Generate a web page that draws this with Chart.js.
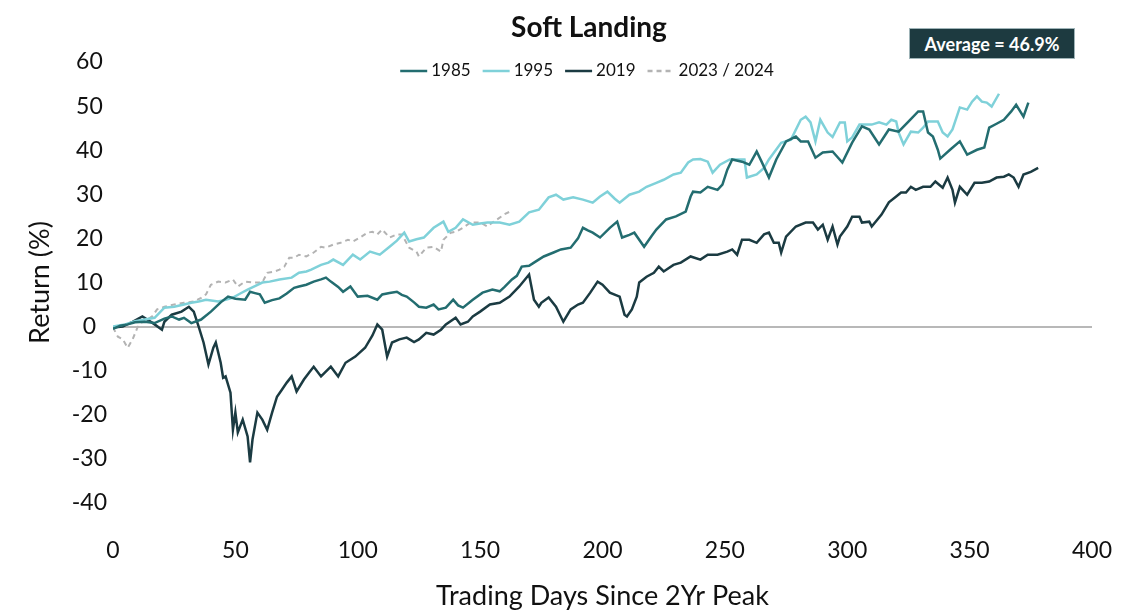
<!DOCTYPE html>
<html lang="en">
  <head>
    <meta charset="UTF-8" />
    <title>Soft Landing</title>
    <script src="https://cdn.jsdelivr.net/npm/chart.js"></script>
    <style>
      body {
        margin: 0;
        background: #fff;
      }
      .quadro {
        position: relative;
        width: 1128px;
        height: 612px;
      }
      .titulo {
        position: absolute;
        left: 489px;
        top: 9px;
        width: 200px;
        text-align: center;
        font: bold 28px Lato, sans-serif;
        color: #111;
      }
      .media {
        position: absolute;
        left: 909px;
        top: 28px;
        width: 164px;
        height: 29px;
        background: #1d3a40;
        border: 1px solid #9fb4b8;
        color: #fff;
        font: bold 18px Lato, sans-serif;
        display: flex;
        align-items: center;
        justify-content: center;
      }
    </style>
  </head>
  <body>
    <div class="quadro">
      <canvas id="grafico" width="1128" height="612"></canvas>
      <div class="titulo">Soft Landing</div>
      <div class="media">Average = 46.9%</div>
    </div>

    <script>
      // values (trading day -> return %)
      const dias1985 = [0, 3, 6, 9, 13, 17, 21, 24, 27, 29, 32, 36, 40, 44, 47, 50, 54, 56, 58, 60, 62, 65, 68, 71, 74, 76, 79, 82, 85, 87, 89, 92, 94, 97, 100, 104, 108, 110, 113, 116, 118, 120, 123, 125, 128, 131, 133, 136, 139, 141, 143, 147, 151, 155, 158, 160, 163, 165, 167, 170, 172, 176, 180, 183, 187, 190, 192, 194, 196, 199, 203, 206, 208, 211, 213, 217, 220, 222, 226, 230, 234, 236, 237, 240, 243, 247, 249, 251, 253, 257, 260, 263, 265, 268, 271, 275, 279, 281, 284, 287, 290, 294, 298, 302, 306, 309, 313, 317, 321, 325, 329, 331, 333, 335, 337, 338, 342, 346, 349, 353, 356, 358, 361, 364, 367, 369, 372, 374]
      const ret1985 = [-0.5, 0.2, 0.5, 1.0, 1.1, 0.8, 1.8, 2.3, 1.6, 2.0, 0.8, 1.6, 3.4, 5.5, 6.8, 6.3, 6.1, 7.9, 7.6, 7.3, 5.4, 6.0, 6.4, 7.5, 8.8, 9.1, 9.5, 10.2, 10.7, 11.1, 10.2, 9.0, 7.9, 9.1, 6.8, 7.0, 6.1, 7.3, 7.6, 7.9, 7.2, 6.8, 5.5, 4.5, 4.3, 5.0, 3.9, 4.3, 6.1, 4.8, 4.3, 6.1, 7.7, 8.4, 8.0, 9.0, 10.7, 11.5, 13.6, 13.8, 14.5, 15.9, 16.8, 17.5, 17.9, 20.0, 22.4, 21.8, 21.3, 20.2, 22.4, 23.8, 20.2, 20.8, 21.3, 18.1, 20.5, 22.0, 24.3, 25.0, 26.1, 29.5, 30.6, 30.4, 31.7, 31.0, 32.2, 35.6, 37.9, 37.4, 36.7, 39.7, 37.4, 33.8, 37.9, 42.0, 43.1, 42.0, 42.0, 38.3, 39.5, 39.7, 37.2, 41.7, 45.4, 44.7, 41.3, 44.7, 44.2, 46.5, 48.8, 48.8, 44.0, 43.1, 40.1, 38.1, 40.1, 42.0, 39.0, 40.1, 40.6, 45.1, 46.0, 46.9, 48.8, 50.3, 47.6, 50.8]

      const dias1995 = [0, 3, 5, 9, 13, 17, 21, 25, 29, 32, 35, 38, 43, 46, 49, 52, 55, 58, 61, 64, 68, 73, 76, 79, 81, 85, 88, 90, 94, 98, 101, 105, 109, 113, 116, 119, 121, 124, 127, 131, 135, 137, 140, 143, 147, 150, 153, 158, 162, 166, 170, 174, 178, 181, 184, 188, 192, 196, 199, 202, 205, 207, 211, 215, 218, 222, 225, 229, 232, 235, 237, 240, 243, 245, 248, 252, 255, 258, 259, 263, 266, 268, 273, 277, 281, 283, 285, 287, 289, 292, 294, 297, 299, 300, 302, 305, 310, 313, 316, 318, 320, 321, 323, 326, 329, 331, 333, 337, 339, 341, 343, 346, 349, 351, 353, 355, 357, 359, 362]
      const ret1995 = [0, 0.3, 0.5, 1.2, 1.6, 2.0, 4.3, 4.5, 5.0, 5.4, 5.7, 6.1, 5.7, 6.1, 6.6, 7.5, 8.4, 9.2, 10.0, 10.2, 10.7, 11.1, 12.2, 12.5, 12.9, 14.0, 14.5, 15.2, 14.0, 16.3, 15.2, 17.0, 16.3, 18.1, 19.5, 21.3, 19.3, 19.8, 20.2, 22.4, 23.8, 21.5, 22.4, 24.3, 23.1, 23.4, 23.6, 23.6, 23.1, 23.8, 25.9, 26.5, 29.3, 29.9, 28.8, 29.3, 28.8, 28.1, 29.5, 30.6, 29.0, 28.1, 29.9, 30.6, 31.7, 32.6, 33.3, 34.5, 34.9, 37.2, 37.9, 38.0, 37.4, 34.9, 36.7, 37.9, 37.9, 37.9, 33.8, 34.5, 36.0, 37.9, 41.7, 42.4, 46.9, 47.6, 46.3, 42.0, 46.9, 44.0, 43.0, 46.3, 46.3, 42.0, 42.9, 45.8, 45.8, 46.3, 45.8, 46.9, 46.5, 44.0, 41.3, 44.2, 44.0, 45.1, 46.5, 46.5, 44.0, 43.1, 44.7, 49.7, 49.2, 51.0, 52.2, 51.0, 50.8, 49.9, 52.8]

      const dias2019 = [0, 4, 8, 12, 14, 17, 20, 21, 24, 28, 31, 33, 35, 37, 39, 41, 42, 44, 45, 46, 48, 49, 50, 51, 53, 55, 56, 57, 59, 61, 63, 65, 67, 69, 71, 73, 75, 78, 80, 82, 85, 89, 92, 95, 99, 103, 106, 108, 110, 112, 114, 117, 120, 123, 125, 128, 131, 134, 136, 140, 142, 145, 147, 150, 154, 158, 162, 166, 170, 172, 174, 175, 178, 181, 184, 187, 190, 192, 195, 198, 200, 203, 207, 209, 210, 212, 214, 215, 218, 221, 223, 225, 229, 232, 236, 240, 243, 247, 251, 253, 255, 257, 260, 263, 266, 268, 270, 272, 273, 275, 279, 283, 286, 288, 290, 292, 294, 296, 297, 300, 302, 305, 306, 309, 310, 314, 317, 320, 322, 324, 326, 328, 331, 334, 336, 339, 341, 343, 344, 346, 349, 352, 355, 358, 361, 364, 366, 368, 370, 372, 375, 378]
      const ret2019 = [-0.2, 0, 1.1, 2.3, 1.6, 0.5, -0.7, 1.1, 2.7, 3.4, 4.5, 3.4, 0, -3.6, -8.6, -4.8, -3.6, -8.2, -11.6, -11.3, -15, -23.4, -19.5, -24, -21.1, -24.9, -30.8, -25.6, -19.5, -21.1, -23.4, -19.5, -15.9, -14.3, -12.7, -11.3, -14.7, -12, -10.5, -9.1, -11.3, -9.1, -11.3, -8.2, -6.8, -4.8, -2, 0.5, -0.7, -6.8, -3.6, -2.9, -2.5, -3.5, -2.9, -1.4, -1.8, -0.7, 0.5, 2.0, 0.5, 1.1, 2.3, 3.4, 5.0, 5.4, 6.8, 9.1, 11.8, 6.1, 4.5, 5.4, 6.6, 4.5, 1.1, 3.9, 5.0, 5.4, 7.7, 10.2, 9.5, 7.7, 6.8, 2.7, 2.3, 3.9, 6.8, 10.0, 11.3, 12.2, 13.6, 12.5, 14.0, 14.5, 15.9, 15.2, 16.3, 16.3, 17.0, 17.5, 16.3, 19.7, 19.7, 19.0, 20.9, 21.3, 19.0, 19.0, 16.8, 20.4, 22.7, 23.6, 23.6, 22.0, 23.1, 19.7, 22.7, 18.6, 20.4, 22.7, 24.9, 24.9, 23.6, 23.8, 22.7, 25.4, 28.2, 29.5, 30.4, 30.4, 31.7, 31.0, 31.7, 31.7, 32.9, 31.5, 33.8, 31.0, 28.1, 31.7, 29.9, 32.6, 32.6, 32.9, 33.8, 34.0, 34.5, 33.8, 31.7, 34.5, 35.1, 36.0]

      const dias2023 = [0, 2, 4, 6, 8, 10, 12, 14, 16, 18, 21, 25, 29, 33, 36, 38, 40, 43, 46, 49, 51, 54, 57, 61, 63, 66, 68, 70, 72, 74, 76, 79, 82, 85, 87, 90, 93, 96, 98, 101, 104, 106, 108, 110, 113, 116, 118, 121, 124, 125, 128, 131, 134, 135, 138, 140, 143, 146, 150, 153, 155, 158, 160, 163]
      const ret2023 = [-0.2, -2.3, -2.9, -4.8, -2.9, -0.2, 1.1, 1.6, 2.3, 3.9, 4.5, 5.0, 5.4, 5.7, 6.5, 7.3, 9.5, 10.2, 10.0, 10.7, 9.1, 10.2, 10.0, 10.0, 12.2, 12.5, 12.9, 13.6, 15.6, 15.6, 16.3, 15.9, 16.8, 18.1, 17.9, 18.6, 19.0, 19.7, 19.3, 20.2, 21.3, 21.5, 20.9, 22.0, 20.2, 20.9, 20.9, 17.9, 17.0, 15.9, 17.9, 18.1, 17.0, 19.7, 21.3, 21.5, 22.4, 23.6, 23.6, 22.7, 23.6, 24.7, 25.5, 26.3]

      const series = ['1985', '1995', '2019', '2023 / 2024']
      const cores = ['#236d70', '#7fd1d9', '#1b3b42', '#b3b3b3']
      const ticksY = [-40, -30, -20, -10, 0, 10, 20, 30, 40, 50, 60]
      const ticksX = [0, 50, 100, 150, 200, 250, 300, 350, 400]

      function pontos(dias, valores) {
        return dias.map((d, i) => ({ x: d, y: valores[i] }))
      }

      // legend drawn by hand: it sits inside the plot, right under the title
      const legendaManual = {
        id: 'legendaManual',
        afterDraw(chart) {
          const ctx = chart.ctx
          const larg = 27
          const espTexto = 4
          const espItem = 12
          ctx.save()
          ctx.font = '17px Lato, sans-serif'
          ctx.textBaseline = 'middle'
          let total = 0
          chart.data.datasets.forEach((ds, i) => {
            total += larg + espTexto + ctx.measureText(ds.label).width
            if (i > 0) total += espItem
          })
          let x = 587 - total / 2
          const y = 71
          chart.data.datasets.forEach((ds) => {
            ctx.strokeStyle = ds.borderColor
            ctx.lineWidth = 2.5
            ctx.setLineDash(ds.borderDash || [])
            ctx.beginPath()
            ctx.moveTo(x, y)
            ctx.lineTo(x + larg, y)
            ctx.stroke()
            ctx.setLineDash([])
            x += larg + espTexto
            ctx.fillStyle = '#111'
            ctx.fillText(ds.label, x, y)
            x += ctx.measureText(ds.label).width + espItem
          })
          ctx.restore()
        }
      }

      const config = {
        type: 'line',
        data: {
          datasets: [
            { label: series[0], data: pontos(dias1985, ret1985), borderColor: cores[0] },
            { label: series[1], data: pontos(dias1995, ret1995), borderColor: cores[1] },
            { label: series[2], data: pontos(dias2019, ret2019), borderColor: cores[2] },
            { label: series[3], data: pontos(dias2023, ret2023), borderColor: cores[3], borderDash: [5, 4], borderWidth: 2 }
          ]
        },
        options: {
          responsive: false,
          animation: false,
          elements: {
            point: { radius: 0 },
            line: { borderWidth: 2.5, tension: 0 }
          },
          layout: { padding: { left: 20, right: 36, top: 62, bottom: 0 } },
          plugins: {
            legend: { display: false },
            title: { display: false },
            tooltip: { enabled: false }
          },
          scales: {
            x: {
              type: 'linear',
              min: 0,
              max: 400,
              // fixed height, and no extra room asked for the end labels
              afterFit: (s) => {
                s.height = 109
                s.paddingLeft = 0
                s.paddingRight = 0
              },
              afterBuildTicks: (s) => { s.ticks = ticksX.map((v) => ({ value: v })) },
              grid: { display: false, drawTicks: false },
              border: { display: false },
              ticks: { padding: 34, color: '#111', font: { family: 'Lato', size: 23 } },
              title: {
                display: true,
                text: 'Trading Days Since 2Yr Peak',
                color: '#111',
                font: { family: 'Lato', size: 27 },
                padding: { top: 0, bottom: 0 }
              }
            },
            y: {
              min: -40,
              max: 60,
              afterFit: (s) => { s.width = 93 },
              afterBuildTicks: (s) => { s.ticks = ticksY.map((v) => ({ value: v })) },
              grid: {
                drawTicks: false,
                lineWidth: 2,
                color: (c) => (c.tick && c.tick.value === 0 ? '#b8b8b8' : 'transparent')
              },
              border: { display: false },
              ticks: { padding: 6, crossAlign: 'center', color: '#111', font: { family: 'Lato', size: 23 } },
              title: {
                display: true,
                text: 'Return (%)',
                color: '#111',
                font: { family: 'Lato', size: 27 },
                padding: { top: 4, bottom: 0 }
              }
            }
          }
        },
        plugins: [legendaManual]
      }

      new Chart(document.getElementById('grafico'), config)
    </script>
  </body>
</html>
